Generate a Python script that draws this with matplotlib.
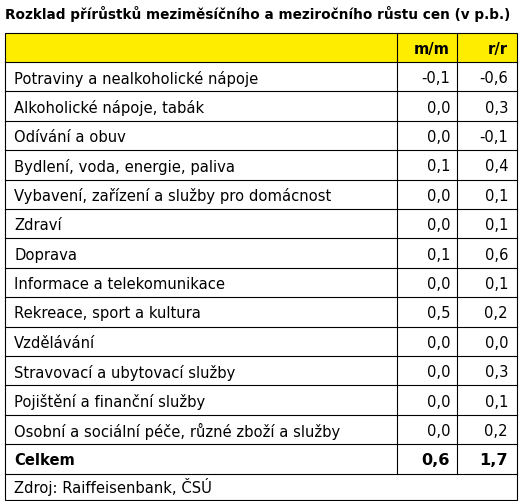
import matplotlib
matplotlib.use("Agg")
import matplotlib.pyplot as plt
from matplotlib.patches import Rectangle

categories = ["Potraviny a nealkoholické nápoje", "Alkoholické nápoje, tabák", "Odívání a obuv",
              "Bydlení, voda, energie, paliva", "Vybavení, zařízení a služby pro domácnost", "Zdraví",
              "Doprava", "Informace a telekomunikace", "Rekreace, sport a kultura", "Vzdělávání",
              "Stravovací a ubytovací služby", "Pojištění a finanční služby",
              "Osobní a sociální péče, různé zboží a služby"]
mm = ["-0,1", "0,0", "0,0", "0,1", "0,0", "0,0", "0,1", "0,0", "0,5", "0,0", "0,0", "0,0", "0,0"]
rr = ["-0,6", "0,3", "-0,1", "0,4", "0,1", "0,1", "0,6", "0,1", "0,2", "0,0", "0,3", "0,1", "0,2"]
total_label = "Celkem"; total_mm = "0,6"; total_rr = "1,7"
headers = ["", "m/m", "r/r"]
title = "Rozklad přírůstků meziměsíčního a meziročního růstu cen (v p.b.)"
source = "Zdroj: Raiffeisenbank, ČSÚ"

W, H = 523, 501
fig = plt.figure(figsize=(W/100, H/100), dpi=100)
ax = fig.add_axes([0, 0, 1, 1])
ax.set_xlim(0, W); ax.set_ylim(H, 0); ax.axis("off")
plt.rcParams['font.family'] = ['DejaVu Sans']

x0, x1, x2, x3 = 5, 397, 457, 517
top = 33; hh = 29; rh = 29.4
fs = 10.6
ax.text(5, 14, title, fontsize=9.8, fontweight='bold', va='center', ha='left')
ax.add_patch(Rectangle((x0, top), x3-x0, hh, facecolor='#FFED00', edgecolor='none'))
ax.text(x2-7, top+hh/2+2, headers[1], fontsize=fs, fontweight='bold', ha='right', va='center')
ax.text(x3-9, top+hh/2+2, headers[2], fontsize=fs, fontweight='bold', ha='right', va='center')
y = top + hh
rows = list(zip(categories, mm, rr)) + [(total_label, total_mm, total_rr)]
for i, (c, a, b) in enumerate(rows):
    last = i == len(rows)-1
    bold = 'bold' if last else 'normal'
    yc = y + rh/2 + 2
    ax.text(x0+9, yc, c, fontsize=fs, fontweight=bold, ha='left', va='center')
    ax.text(x2-7, yc, a, fontsize=fs+1 if last else fs, fontweight=bold, ha='right', va='center')
    ax.text(x3-9, yc, b, fontsize=fs+1 if last else fs, fontweight=bold, ha='right', va='center')
    ax.plot([x0, x3], [y, y], color='black', lw=0.8)
    y += rh
ax.plot([x0, x3], [y, y], color='black', lw=0.8)
for xv in (x1, x2):
    ax.plot([xv, xv], [top, y], color='black', lw=0.8)
ax.text(x0+9, y+13, source, fontsize=fs, ha='left', va='center')
yb = y + 26
ax.add_patch(Rectangle((x0, top), x3-x0, yb-top, facecolor='none', edgecolor='black', lw=0.8))
fig.savefig("out.png", dpi=100)
